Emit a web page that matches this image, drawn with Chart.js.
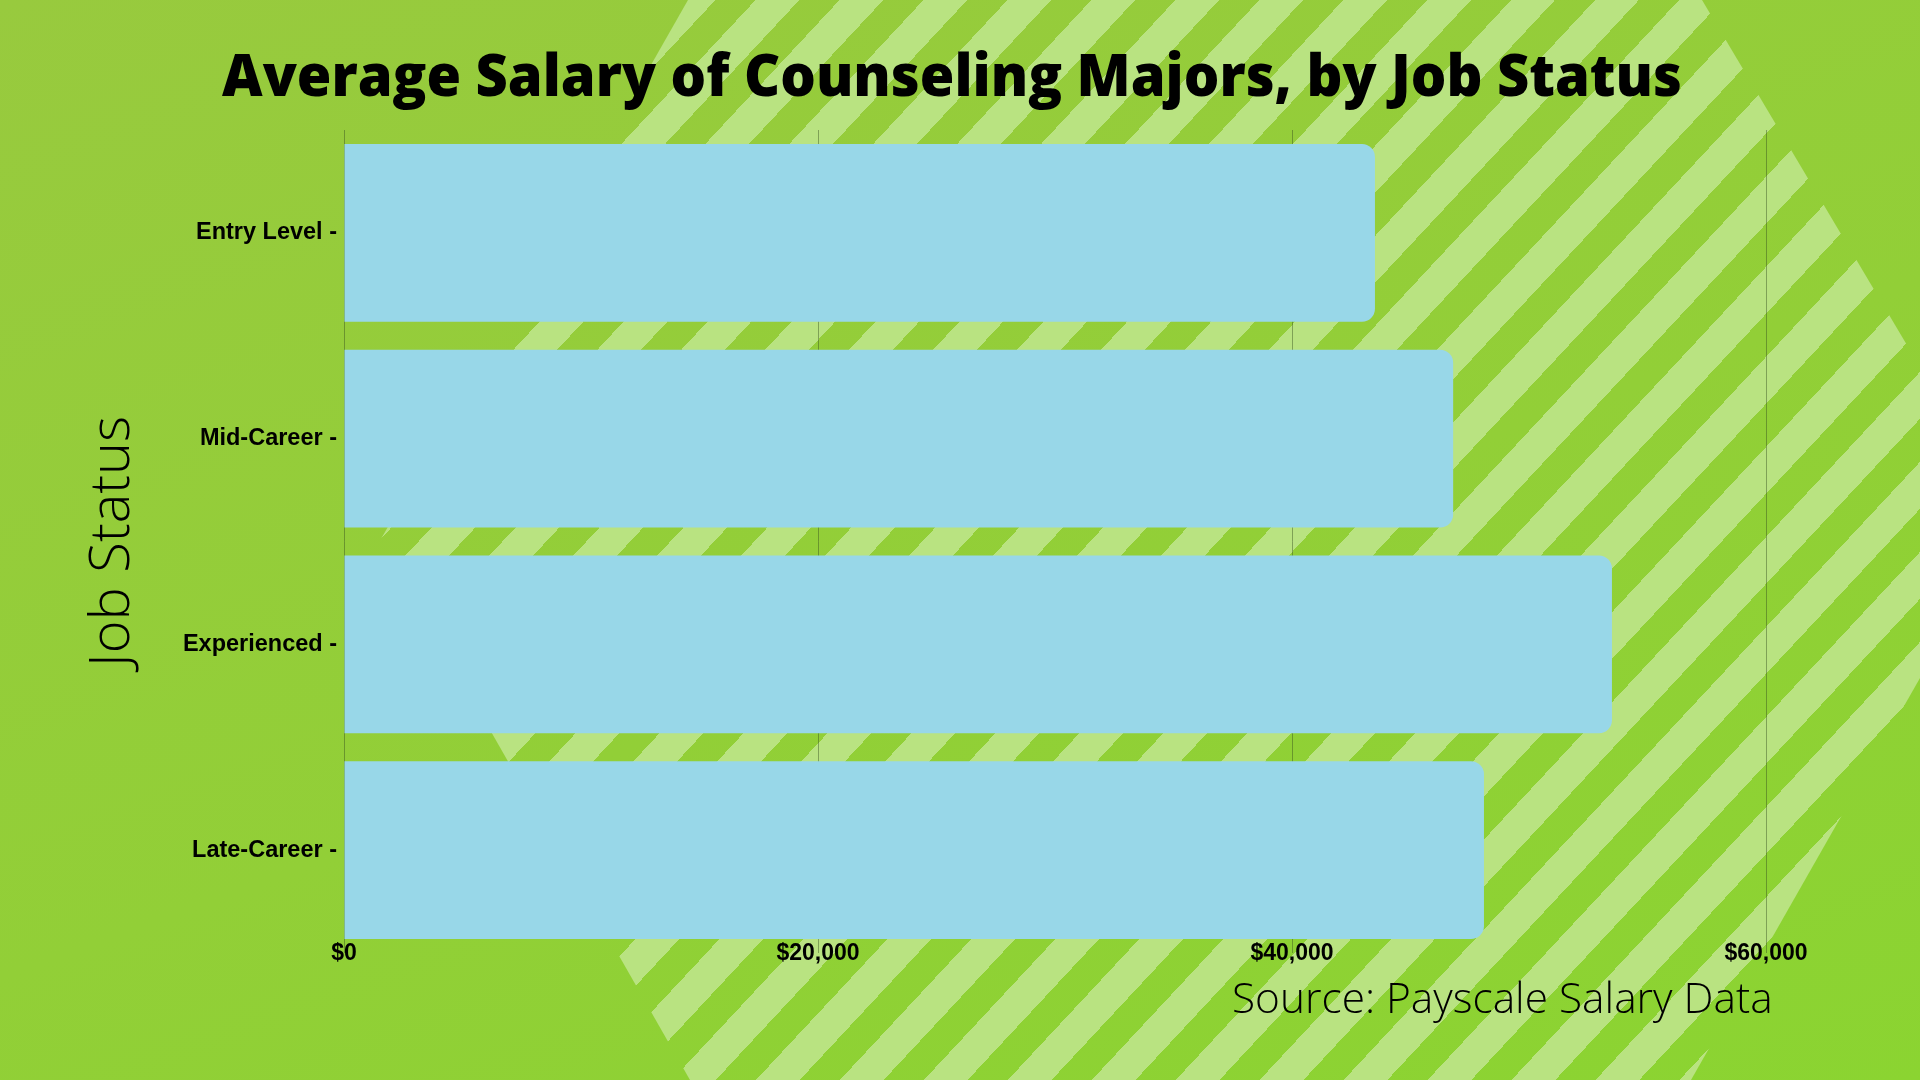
<!DOCTYPE html>
<html lang="en">
<head>
<meta charset="utf-8">
<title>Average Salary of Counseling Majors, by Job Status</title>
<script src="https://cdn.jsdelivr.net/npm/chart.js@4.4.1/dist/chart.umd.min.js"></script>
<style>
  html, body { margin: 0; padding: 0; }
  body {
    width: 1920px; height: 1080px; overflow: hidden; position: relative;
    background: linear-gradient(160deg, #98ca3e 0%, #92cf37 55%, #8bd431 100%);
  }
  /* bandes claires en diagonale, dans un hexagone à droite */
  #stripes {
    position: absolute; left: 0; top: 0; width: 1920px; height: 1080px;
    background: repeating-linear-gradient(133deg, #b9e381 0px, #b9e381 32px, transparent 32px, transparent 61.4px);
    clip-path: polygon(688px 0, 1702px 0, 1920px 367px, 1920px 678px, 1691px 1080px, 690px 1080px, 381px 539px);
  }
  canvas { position: absolute; left: 0; top: 0; }
</style>
</head>
<body>
<div id="stripes"></div>
<canvas id="salaryChart" width="1920" height="1080"></canvas>
<script>
// Données
const categories = ['Entry Level', 'Mid-Career', 'Experienced', 'Late-Career'];
const salaries = [43500, 46800, 53500, 48100];
const xTicks = [0, 20000, 40000, 60000];

const chartTitle = 'Average Salary of Counseling Majors, by Job Status';
const axisTitle = 'Job Status';
const sourceText = 'Source: Payscale Salary Data';

// Titre et source dessinés à la main pour les placer au pixel près
const fixedText = {
    id: 'fixedText',
    afterDraw(chart) {
        const ctx = chart.ctx;
        ctx.save();
        ctx.fillStyle = '#000';
        ctx.textBaseline = 'alphabetic';
        ctx.textAlign = 'center';
        ctx.font = '800 58px "Open Sans"';
        ctx.fillText(chartTitle, 952, 96, 1460);
        ctx.textAlign = 'left';
        ctx.font = '300 42.4px "Open Sans"';
        ctx.fillText(sourceText, 1232, 1013);
        ctx.restore();
    }
};

const ctx = document.getElementById('salaryChart').getContext('2d');

new Chart(ctx, {
    type: 'bar',
    data: {
        labels: categories,
        datasets: [{
            label: 'Average Salary',
            data: salaries,
            backgroundColor: '#98d7e8',
            borderWidth: 0,
            borderRadius: 13,
            borderSkipped: 'start',
            barPercentage: 0.864,
            categoryPercentage: 1
        }]
    },
    options: {
        indexAxis: 'y',
        responsive: false,
        animation: false,
        devicePixelRatio: 1,
        layout: {
            padding: { top: 130, right: 154, bottom: 0, left: 0 }
        },
        scales: {
            x: {
                min: 0,
                max: 60000,
                afterBuildTicks: (scale) => {
                    scale.ticks = xTicks.map(v => ({ value: v }));
                },
                afterFit: (scale) => {
                    scale.height = 127;
                    // les étiquettes remontent un peu dans la zone du graphique : pas de découpe
                    scale._computeLabelArea = () => undefined;
                },
                grid: {
                    color: 'rgba(55, 80, 30, 0.45)',
                    lineWidth: 1,
                    drawTicks: false
                },
                border: { display: false },
                ticks: {
                    padding: -13,
                    color: '#000',
                    font: { family: '"Liberation Sans", Arial, sans-serif', size: 23, weight: 'bold' },
                    callback: (value) => '$' + value.toLocaleString('en-US')
                }
            },
            y: {
                afterFit: (scale) => { scale.width = 344; },
                grid: { display: false, drawTicks: false },
                border: { display: false },
                ticks: {
                    padding: 7,
                    color: '#000',
                    font: { family: '"Liberation Sans", Arial, sans-serif', size: 23.5, weight: 'bold' },
                    callback: function (value) { return this.getLabelForValue(value) + ' -'; }
                },
                title: {
                    display: true,
                    text: axisTitle,
                    color: '#000',
                    font: { family: '"Open Sans"', size: 56, weight: 300 },
                    padding: { top: 79, bottom: 0 }
                }
            }
        },
        plugins: {
            legend: { display: false },
            tooltip: { enabled: false },
            title: { display: false }
        }
    },
    plugins: [fixedText]
});
</script>
</body>
</html>
